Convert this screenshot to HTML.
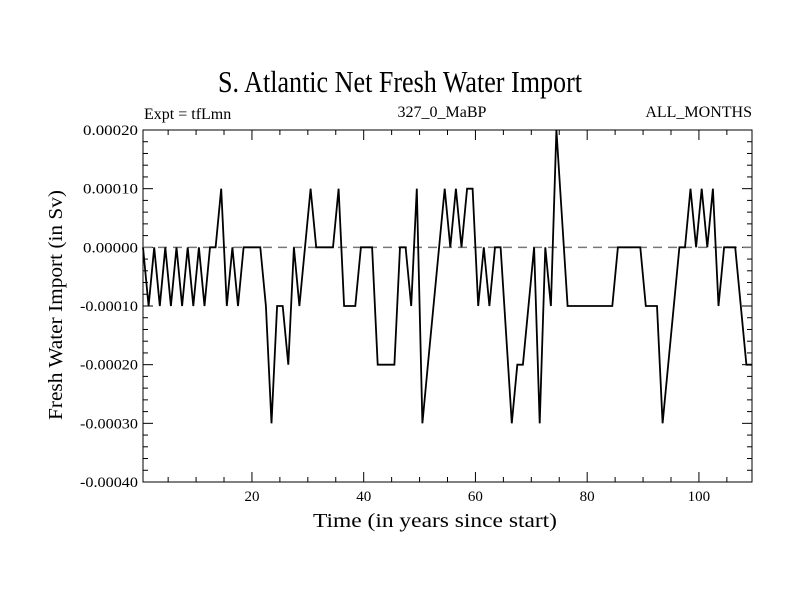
<!DOCTYPE html>
<html><head><meta charset="utf-8"><style>
html,body{margin:0;padding:0;background:#fff;}
svg{display:block;font-family:"Liberation Serif",serif;}
</style></head><body>
<svg id="chart" width="800" height="600">
<text x="400" y="92" font-size="31" text-anchor="middle" textLength="364" lengthAdjust="spacingAndGlyphs">S. Atlantic Net Fresh Water Import</text>
<text x="144" y="119" font-size="16">Expt = tfLmn</text>
<text x="442" y="117" font-size="16" text-anchor="middle">327_0_MaBP</text>
<text x="752" y="117" font-size="16" text-anchor="end">ALL_MONTHS</text>
<text x="435" y="527" font-size="20" text-anchor="middle" textLength="244" lengthAdjust="spacingAndGlyphs">Time (in years since start)</text>
<text transform="translate(62,305) rotate(-90)" font-size="20" text-anchor="middle" textLength="230" lengthAdjust="spacingAndGlyphs">Fresh Water Import (in Sv)</text>
<g id="axes"></g>
<g id="plot"></g>
</svg>
<script>
const years = [];
for (let i = 0; i < 110; i++) years.push(i + 0.5);
const values = [0,-1,0,-1,0,-1,0,-1,0,-1,0,-1,0,0,1,-1,0,-1,0,0,
0,0,-1,-3,-1,-1,-2,0,-1,0,1,0,0,0,0,1,-1,-1,-1,0,
0,0,-2,-2,-2,-2,0,0,-1,1,-3,-2,-1,0,1,0,1,0,1,1,
-1,0,-1,0,0,-1.5,-3,-2,-2,-1,0,-3,0,-1,2,0.5,-1,-1,-1,-1,
-1,-1,-1,-1,-1,0,0,0,0,0,-1,-1,-1,-3,-2,-1,0,0,1,0,
1,0,1,-1,0,0,0,-1,-2,-2].map(v => v * 0.0001);
const xTicks = [20,40,60,80,100];
const yTicks = [0.0002,0.0001,0,-0.0001,-0.0002,-0.0003,-0.0004];
const yTickLabels = ["0.00020","0.00010","0.00000","-0.00010","-0.00020","-0.00030","-0.00040"];

const L=143,R=752,T=130,B=482,xmin=0.5,xmax=109.5,ymin=-0.0004,ymax=0.0002;
const sx = x => L + (x - xmin) / (xmax - xmin) * (R - L);
const sy = y => B - (y - ymin) / (ymax - ymin) * (B - T);
const NS="http://www.w3.org/2000/svg";
const axes=document.getElementById('axes'), plot=document.getElementById('plot');
function mk(tag, attrs, parent){const e=document.createElementNS(NS,tag);for(const k in attrs)e.setAttribute(k,attrs[k]);parent.appendChild(e);return e;}

const frame = mk('rect',{x:L,y:T,width:R-L,height:B-T,fill:'none',stroke:'#000','stroke-width':1},axes);



for (let t = 5; t < 110; t += 5) {
  const x = sx(t), len = (t % 20 === 0) ? 10 : 5;
  const a = mk('line',{x1:x,y1:B,x2:x,y2:B-len,stroke:'#000'},axes);
  
  
  const b = mk('line',{x1:x,y1:T,x2:x,y2:T+len,stroke:'#000'},axes);
  
  
}
xTicks.forEach(t => {
  const tx = mk('text',{x:sx(t),y:B+19,'font-size':15,'text-anchor':'middle'},axes);
  tx.textContent = t;
  
  
});
for (let k = 0; k <= 30; k++) {
  const v = ymin + k * 0.00002, y = sy(v), len = (k % 5 === 0) ? 10 : 5;
  const a = mk('line',{x1:L,y1:y,x2:L+len,y2:y,stroke:'#000'},axes);
  
  
  const b = mk('line',{x1:R,y1:y,x2:R-len,y2:y,stroke:'#000'},axes);
  
  
}
yTicks.forEach((v,i) => {
  const lbl = yTickLabels[i];
  const tx = mk('text',{x:L-5,y:sy(v)+5,'font-size':15,'text-anchor':'end',textLength:(lbl[0]==='-'?58:55),lengthAdjust:'spacingAndGlyphs'},axes);
  tx.textContent = lbl;
  
  
});
const zl = mk('line',{x1:L,y1:sy(0),x2:R,y2:sy(0),stroke:'#777','stroke-width':1.5,'stroke-dasharray':'9,6'},plot);


let d = '';
years.forEach((x,i) => { d += (i ? 'L' : 'M') + sx(x).toFixed(1) + ',' + sy(values[i]).toFixed(1); });
d += 'L' + R + ',' + sy(values[values.length-1]).toFixed(1);
const line = mk('path',{d:d,fill:'none',stroke:'#000','stroke-width':1.8,'stroke-linejoin':'miter'},plot);


</script>
</body></html>
